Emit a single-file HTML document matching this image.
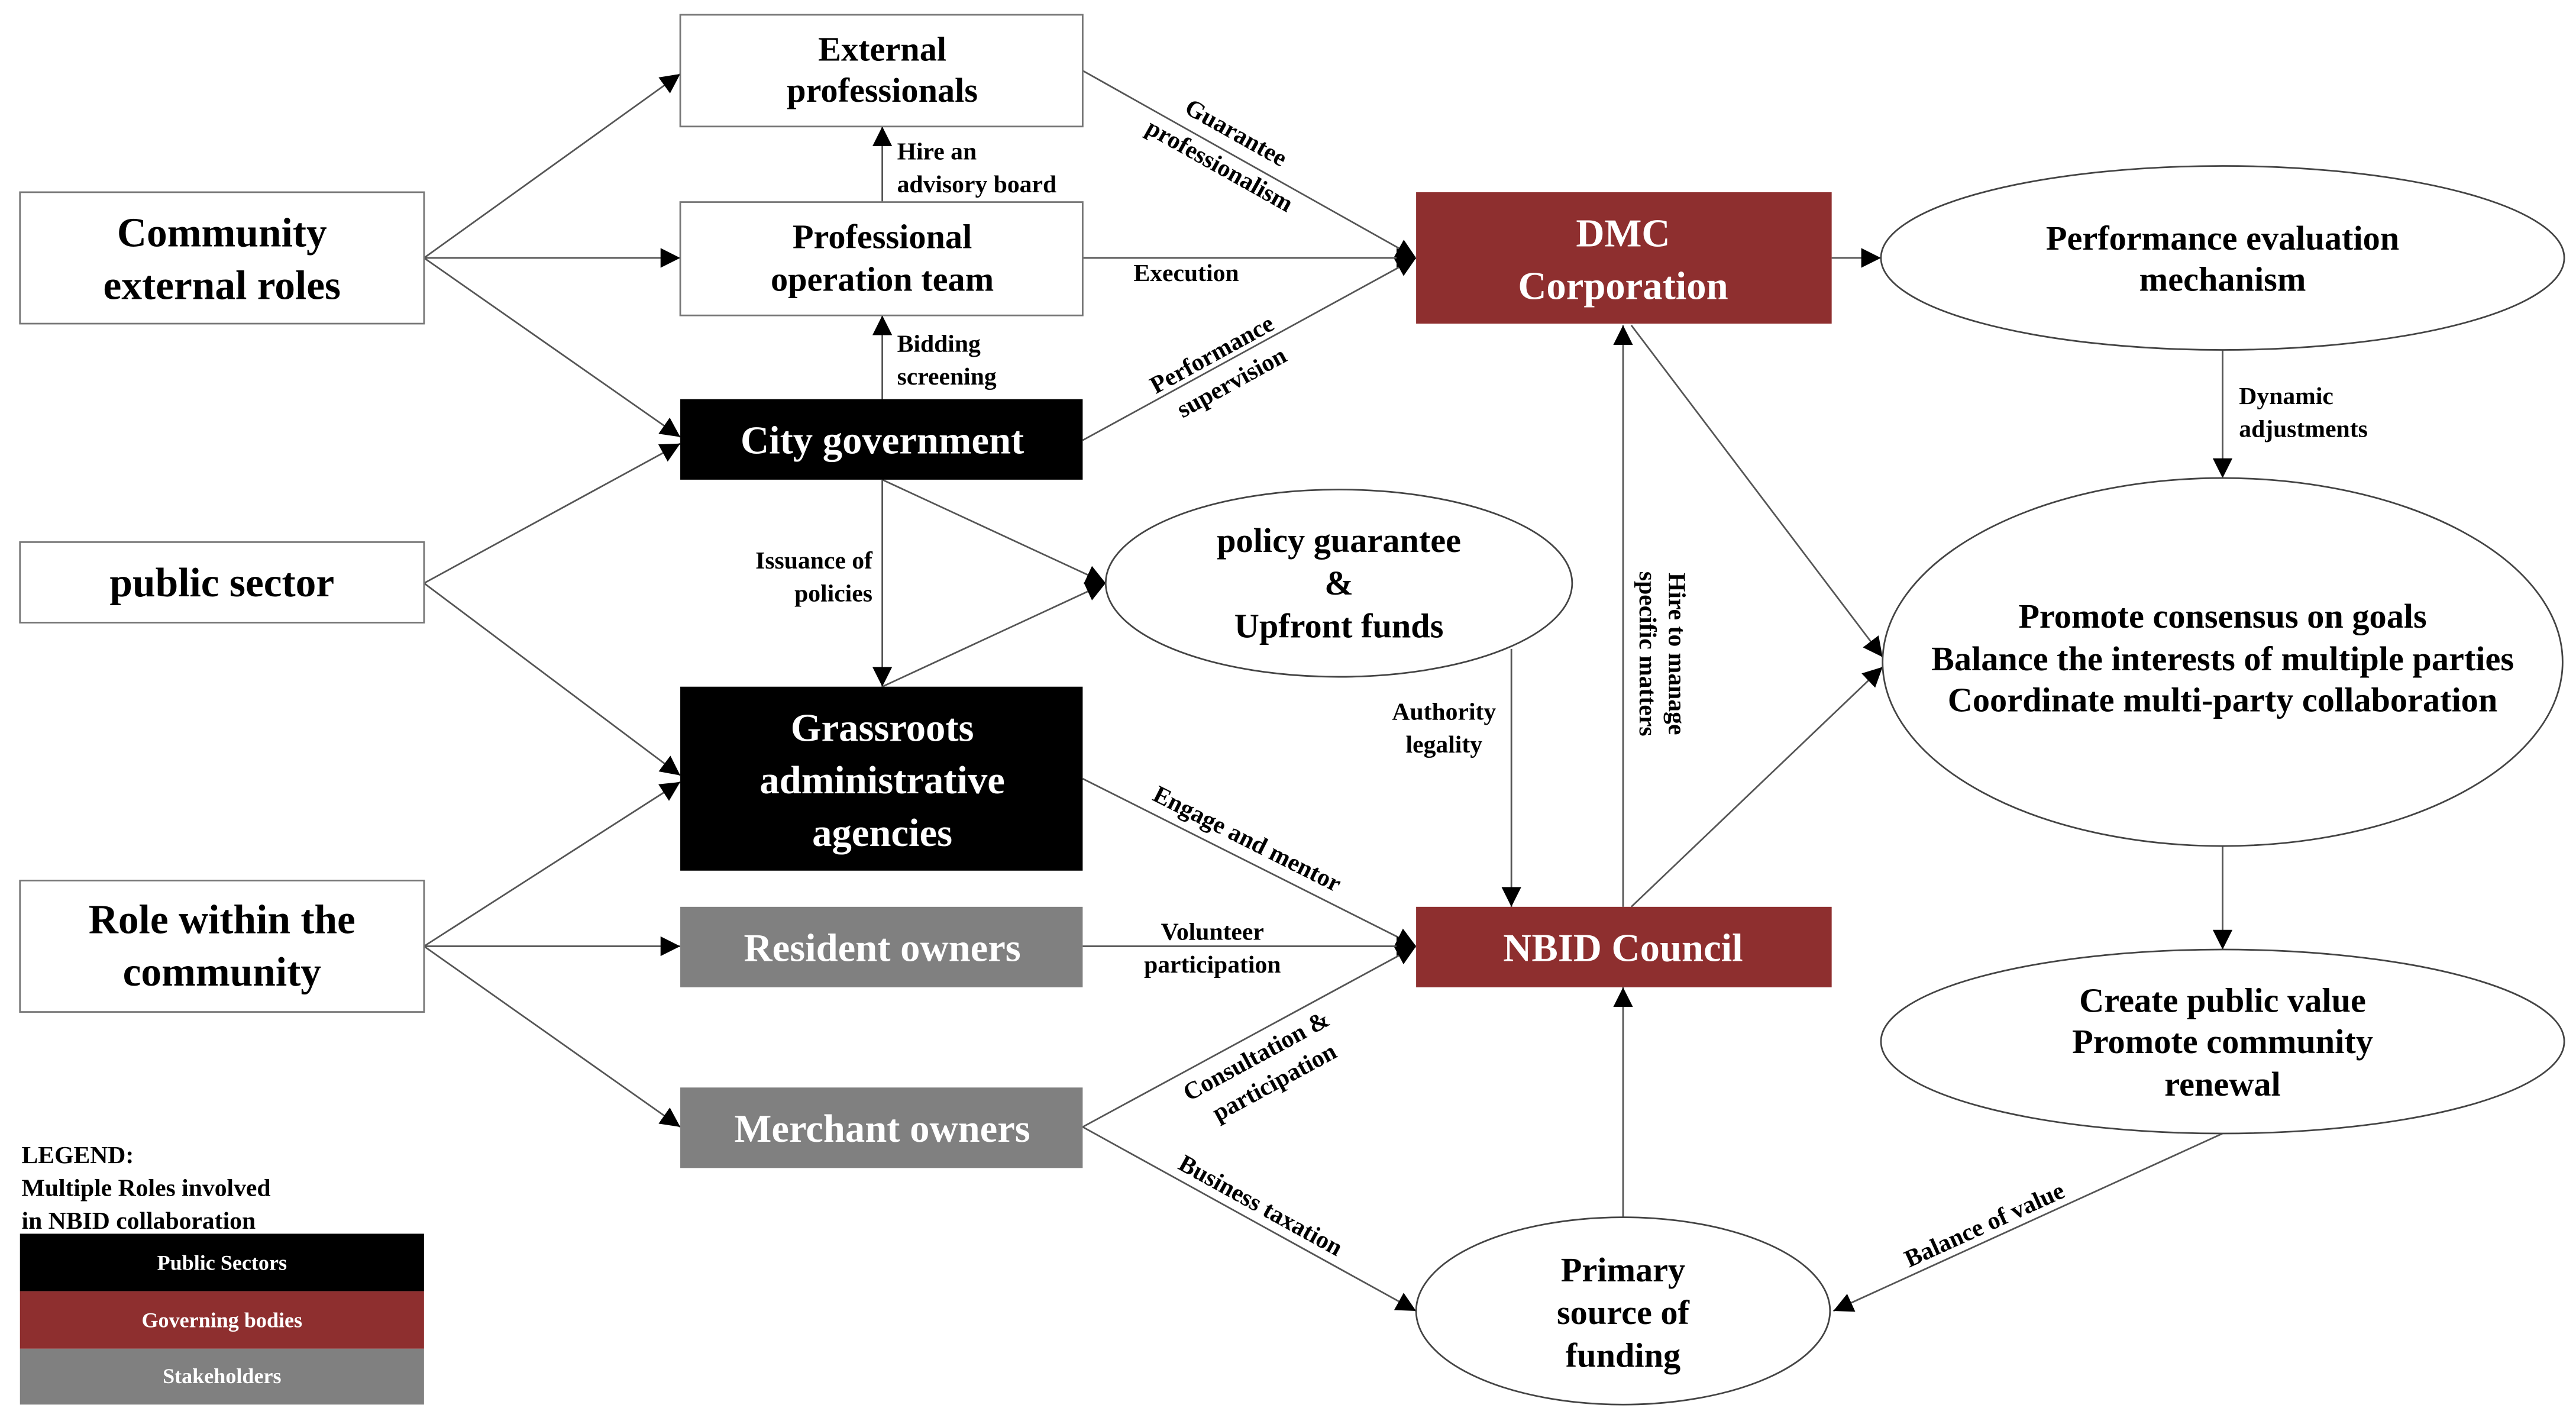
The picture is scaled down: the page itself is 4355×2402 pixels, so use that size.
<!DOCTYPE html>
<html><head><meta charset="utf-8"><style>
html,body{margin:0;padding:0;background:#fff;}
svg{display:block;}
text{font-family:"Liberation Serif",serif;font-weight:bold;}
</style></head><body>
<svg width="4355" height="2402" viewBox="0 0 1568 865" xmlns="http://www.w3.org/2000/svg">
<defs>
<marker id="a" viewBox="0 0 10 10" refX="10" refY="5" markerWidth="12" markerHeight="12" markerUnits="userSpaceOnUse" orient="auto"><path d="M0,0 L10,5 L0,10 z" fill="#000"/></marker>
</defs>
<rect width="1568" height="865" fill="#fff"/>
<g stroke="#555" stroke-width="1" fill="none" marker-end="url(#a)">
<line x1="258" y1="157" x2="414" y2="45"/>
<line x1="258" y1="157" x2="414" y2="157"/>
<line x1="258" y1="157" x2="414" y2="266"/>
<line x1="258" y1="355" x2="414" y2="270"/>
<line x1="258" y1="355" x2="414" y2="472"/>
<line x1="258" y1="576" x2="414" y2="476"/>
<line x1="258" y1="576" x2="414" y2="576"/>
<line x1="258" y1="576" x2="414" y2="686"/>
<line x1="537" y1="123" x2="537" y2="77"/>
<line x1="537" y1="243" x2="537" y2="192"/>
<line x1="537" y1="292" x2="537" y2="418"/>
<line x1="537" y1="292" x2="673" y2="355"/>
<line x1="537" y1="418" x2="673" y2="355"/>
<line x1="659" y1="43" x2="862" y2="157"/>
<line x1="659" y1="157" x2="862" y2="157"/>
<line x1="659" y1="268" x2="862" y2="157"/>
<line x1="1115" y1="157" x2="1145" y2="157"/>
<line x1="1353" y1="213" x2="1353" y2="291"/>
<line x1="1353" y1="515" x2="1353" y2="578"/>
<line x1="1353" y1="690" x2="1116" y2="798"/>
<line x1="988" y1="741" x2="988" y2="601"/>
<line x1="988" y1="552" x2="988" y2="198"/>
<line x1="993" y1="198" x2="1146" y2="400"/>
<line x1="993" y1="552" x2="1146" y2="406"/>
<line x1="920" y1="395" x2="920" y2="552"/>
<line x1="659" y1="474" x2="862" y2="576"/>
<line x1="659" y1="576" x2="862" y2="576"/>
<line x1="659" y1="686" x2="862" y2="576"/>
<line x1="659" y1="686" x2="862" y2="798"/>
</g>
<g stroke="#777" stroke-width="1">
<rect x="12" y="117" width="246" height="80" fill="#fff"/>
<rect x="12" y="330" width="246" height="49" fill="#fff"/>
<rect x="12" y="536" width="246" height="80" fill="#fff"/>
<rect x="414" y="9" width="245" height="68" fill="#fff"/>
<rect x="414" y="123" width="245" height="69" fill="#fff"/>
</g>
<rect x="414" y="243" width="245" height="49" fill="#000"/>
<rect x="414" y="418" width="245" height="112" fill="#000"/>
<rect x="414" y="552" width="245" height="49" fill="#808080"/>
<rect x="414" y="662" width="245" height="49" fill="#808080"/>
<rect x="862" y="117" width="253" height="80" fill="#8e2f2f"/>
<rect x="862" y="552" width="253" height="49" fill="#8e2f2f"/>
<g stroke="#444" stroke-width="1" fill="#fff">
<ellipse cx="815" cy="355" rx="142" ry="57"/>
<ellipse cx="1353" cy="157" rx="208" ry="56"/>
<ellipse cx="1353" cy="403" rx="207" ry="112"/>
<ellipse cx="1353" cy="634" rx="208" ry="56"/>
<ellipse cx="988" cy="798" rx="126" ry="57"/>
</g>
<rect x="12" y="751" width="246" height="35" fill="#000"/>
<rect x="12" y="786" width="246" height="35" fill="#8e2f2f"/>
<rect x="12" y="821" width="246" height="34" fill="#808080"/>
<g text-anchor="middle" font-size="25">
<text x="135" y="150">Community</text><text x="135" y="182">external roles</text>
<text x="135" y="363">public sector</text>
<text x="135" y="568">Role within the</text><text x="135" y="600">community</text>
</g>
<g text-anchor="middle" font-size="21">
<text x="537" y="37">External</text><text x="537" y="62">professionals</text>
<text x="537" y="151">Professional</text><text x="537" y="177">operation team</text>
<text x="815" y="336">policy guarantee</text><text x="815" y="362">&amp;</text><text x="815" y="388">Upfront funds</text>
<text x="1353" y="152">Performance evaluation</text><text x="1353" y="177">mechanism</text>
<text x="1353" y="382">Promote consensus on goals</text><text x="1353" y="408">Balance the interests of multiple parties</text><text x="1353" y="433">Coordinate multi-party collaboration</text>
<text x="1353" y="616">Create public value</text><text x="1353" y="641">Promote community</text><text x="1353" y="667">renewal</text>
<text x="988" y="780">Primary</text><text x="988" y="806">source of</text><text x="988" y="832">funding</text>
</g>
<g text-anchor="middle" font-size="24" fill="#fff">
<text x="537" y="276">City government</text>
<text x="537" y="451">Grassroots</text><text x="537" y="483">administrative</text><text x="537" y="515">agencies</text>
<text x="537" y="585">Resident owners</text>
<text x="537" y="695">Merchant owners</text>
<text x="988" y="150">DMC</text><text x="988" y="182">Corporation</text>
<text x="988" y="585">NBID Council</text>
</g>
<g font-size="15">
<text x="13" y="708">LEGEND:</text>
<text x="13" y="728">Multiple Roles involved</text>
<text x="13" y="748">in NBID collaboration</text>
</g>
<g text-anchor="middle" font-size="13" fill="#fff">
<text x="135" y="773">Public Sectors</text>
<text x="135" y="808">Governing bodies</text>
<text x="135" y="842">Stakeholders</text>
</g>
<g font-size="15">
<text x="546" y="97">Hire an</text><text x="546" y="117">advisory board</text>
<text x="546" y="214">Bidding</text><text x="546" y="234">screening</text>
<text x="531" y="346" text-anchor="end">Issuance of</text><text x="531" y="366" text-anchor="end">policies</text>
<text x="690" y="171">Execution</text>
<text x="1363" y="246">Dynamic</text><text x="1363" y="266">adjustments</text>
<text x="879" y="438" text-anchor="middle">Authority</text><text x="879" y="458" text-anchor="middle">legality</text>
<text x="738" y="572" text-anchor="middle">Volunteer</text><text x="738" y="592" text-anchor="middle">participation</text>
<g text-anchor="middle">
<text transform="translate(750,85) rotate(29.3)">Guarantee</text>
<text transform="translate(740,105) rotate(29.3)">professionalism</text>
<text transform="translate(740,220) rotate(-28.7)">Performance</text>
<text transform="translate(752,237) rotate(-28.7)">supervision</text>
<text transform="translate(757,515) rotate(26.7)">Engage and mentor</text>
<text transform="translate(767,647) rotate(-28.5)">Consultation &amp;</text>
<text transform="translate(778,663) rotate(-28.5)">participation</text>
<text transform="translate(765,738) rotate(28.9)">Business taxation</text>
<text transform="translate(1210,750) rotate(-24.4)">Balance of value</text>
<text transform="translate(1016,398) rotate(90)">Hire to manage</text>
<text transform="translate(998,398) rotate(90)">specific matters</text>
</g>
</g>
</svg>
</body></html>
